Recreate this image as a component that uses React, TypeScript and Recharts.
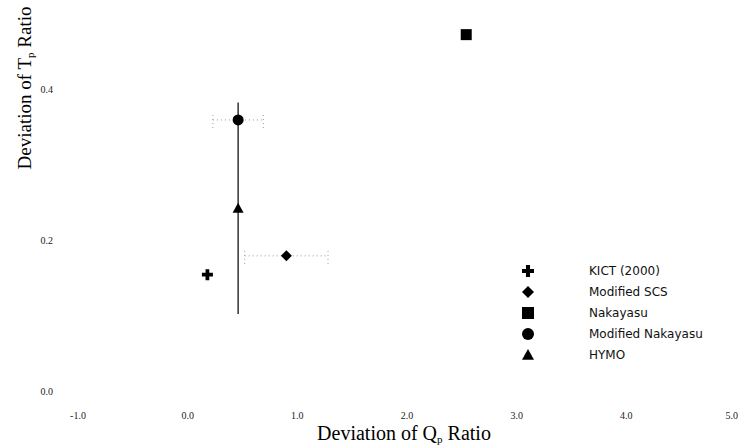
import {
  ScatterChart,
  Scatter,
  XAxis,
  YAxis,
  ErrorBar,
} from "recharts";

const methods = ["KICT (2000)", "Modified SCS", "Nakayasu", "Modified Nakayasu", "HYMO"];
const markers = ["plus", "diamond", "square", "circle", "triangle"];
const qpDeviation = [0.18, 0.9, 2.54, 0.46, 0.46];
const tpDeviation = [0.154, 0.179, 0.472, 0.359, 0.242];
const qpError = [0, 0.38, 0, 0.23, 0];
const tpError = [0, 0, 0, 0, 0.14];
const xTicks = [-1, 0, 1, 2, 3, 4, 5];
const yTicks = [0, 0.2, 0.4];

const series = methods.map((name, i) => ({
  name,
  marker: markers[i],
  data: [{ qp: qpDeviation[i], tp: tpDeviation[i], qpErr: qpError[i], tpErr: tpError[i] }],
}));

function Marker({ kind, cx, cy, s = 11 }: { kind: string; cx: number; cy: number; s?: number }) {
  const h = s / 2;
  if (kind === "plus") {
    const t = s * 0.17;
    return (
      <path
        d={`M${cx - h},${cy - t}H${cx - t}V${cy - h}H${cx + t}V${cy - t}H${cx + h}V${cy + t}H${cx + t}V${cy + h}H${cx - t}V${cy + t}H${cx - h}Z`}
        fill="#000"
      />
    );
  }
  if (kind === "diamond") {
    return <path d={`M${cx},${cy - h}L${cx + h},${cy}L${cx},${cy + h}L${cx - h},${cy}Z`} fill="#000" />;
  }
  if (kind === "square") {
    return <rect x={cx - h} y={cy - h} width={s} height={s} fill="#000" />;
  }
  if (kind === "circle") {
    return <circle cx={cx} cy={cy} r={h} fill="#000" />;
  }
  return <path d={`M${cx},${cy - h}L${cx + h},${cy + h * 0.8}L${cx - h},${cy + h * 0.8}Z`} fill="#000" />;
}

// axis titles with a subscript p
function XTitle() {
  return (
    <text x={404} y={440} textAnchor="middle" fontFamily="Liberation Serif" fontSize={20} fill="#000">
      Deviation of Q<tspan fontSize={11} dy={3}>p</tspan>
      <tspan dy={-3}> Ratio</tspan>
    </text>
  );
}

function YTitle() {
  return (
    <text
      x={31}
      y={88}
      transform="rotate(-90 31 88)"
      textAnchor="middle"
      fontFamily="Liberation Serif"
      fontSize={19}
      fill="#000"
    >
      Deviation of T<tspan fontSize={11} dy={3}>p</tspan>
      <tspan dy={-3}> Ratio</tspan>
    </text>
  );
}

function LegendBox() {
  return (
    <div
      style={{
        position: "absolute",
        left: 521,
        top: 260,
        fontFamily: "DejaVu Sans",
        fontSize: 12,
        color: "#111",
      }}
    >
      {series.map((s) => (
        <div key={s.name} style={{ display: "flex", alignItems: "center", height: 21 }}>
          <svg width={14} height={14} style={{ marginRight: 54 }}>
            <Marker kind={s.marker} cx={7} cy={7} s={12} />
          </svg>
          <span>{s.name}</span>
        </div>
      ))}
    </div>
  );
}

export default function App() {
  return (
    <div style={{ position: "absolute", left: 0, top: 0, width: 738, height: 447, background: "#fff" }}>
      <ScatterChart width={738} height={447} margin={{ top: 13.5, right: 2, left: 0, bottom: 0 }}>
        <XAxis
          type="number"
          dataKey="qp"
          domain={[-1, 5]}
          ticks={xTicks}
          tickFormatter={(v: number) => v.toFixed(1)}
          axisLine={false}
          tickLine={false}
          tickSize={6}
          tickMargin={15}
          height={56}
          tick={{ fontFamily: "Liberation Serif", fontSize: 10, fill: "#222" }}
          label={<XTitle />}
        />
        <YAxis
          type="number"
          dataKey="tp"
          domain={[0, 0.5]}
          ticks={yTicks}
          tickFormatter={(v: number) => v.toFixed(1)}
          axisLine={false}
          tickLine={false}
          tickSize={6}
          tickMargin={19}
          width={78}
          tick={{ fontFamily: "Liberation Serif", fontSize: 10, fill: "#222" }}
          label={<YTitle />}
        />
        {series.map((s, i) => (
          <Scatter
            key={s.name}
            name={s.name}
            data={s.data}
            isAnimationActive={false}
            shape={(p: any) => <Marker kind={s.marker} cx={p.cx} cy={p.cy} />}
          >
            {tpError[i] > 0 && (
              <ErrorBar dataKey="tpErr" direction="y" width={0} stroke="#000" strokeWidth={1.2} />
            )}
            {qpError[i] > 0 && (
              <ErrorBar
                dataKey="qpErr"
                direction="x"
                width={8}
                stroke="#999"
                strokeWidth={1}
                strokeDasharray="1 3"
              />
            )}
          </Scatter>
        ))}
      </ScatterChart>
      <LegendBox />
    </div>
  );
}
